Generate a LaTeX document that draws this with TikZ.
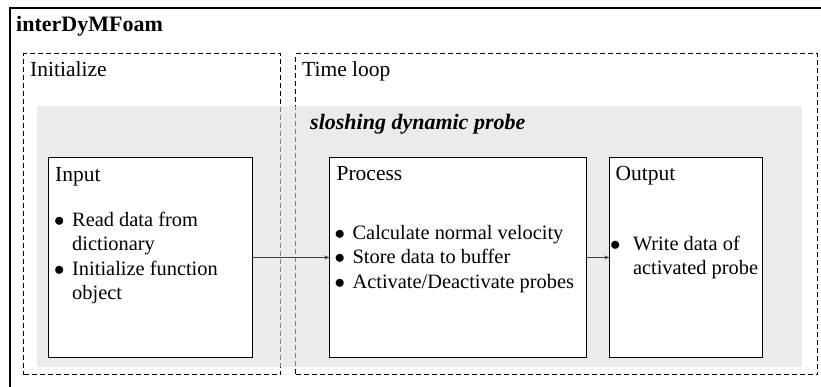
\documentclass[tikz,border=0pt]{standalone}
\usepackage{fontspec}
\setmainfont{Liberation Serif}
\usetikzlibrary{arrows.meta,positioning}

% bullet line and its continuation line
\newcommand{\bitem}[2][17pt]{\makebox[#1][l]{\hspace{-1pt}$\bullet$}#2}
\newcommand{\bcont}[2][17pt]{\hspace*{#1}#2}
\newcommand{\blist}[1]{\begin{tabular}[t]{@{}l@{}}#1\end{tabular}}

\begin{document}
\begin{tikzpicture}[x=1pt,y=-1pt,
    box/.style={draw, line width=0.9pt, fill=white, inner sep=0pt, anchor=north west, minimum height=200pt},
    phase/.style={draw, dash pattern=on 5pt off 3pt, line width=1.3pt, inner sep=0pt, anchor=north west, minimum height=321pt},
    head/.style={anchor=base west, inner sep=0pt, font=\fontsize{21.5}{24}\selectfont},
    bullets/.style={anchor=base west, inner sep=0pt, font=\fontsize{20.4}{24.5}\selectfont},
    flow/.style={-{Stealth[length=5pt,width=4pt]}, line width=0.7pt, black!75}]

    \useasboundingbox (0,0) rectangle (821,387);
    \clip (0,0) rectangle (821,387);

    % solver frame, runs off the page on the right and bottom
    \node[draw, line width=1.6pt, inner sep=0pt, anchor=north west, minimum width=830pt, minimum height=400pt] (solver) at (9,7) {};
    \node[anchor=base west, inner sep=0pt, font=\fontsize{22}{24}\selectfont\bfseries] (solvername) at (16,31.5) {interDyMFoam};

    % phases
    \node[phase, minimum width=257pt] (init) at (23,53) {};
    \node[phase, minimum width=522pt] (loop) at (295,53) {};
    \node[head] (initname) at ([shift={(7,24)}]init.north west) {Initialize};
    \node[head] (loopname) at ([shift={(7,24)}]loop.north west) {Time loop};

    % function object band, see-through over the phase frames
    \node[anchor=north west, inner sep=0pt, fill=black!13, fill opacity=0.6, minimum width=765pt, minimum height=261pt] (band) at (37,106) {};
    \node[anchor=base west, inner sep=0pt, font=\fontsize{22}{24}\selectfont\bfseries\itshape] (bandname) at (310,130) {sloshing dynamic probe};

    % steps
    \node[box, minimum width=204pt] (input) at (48,157) {};
    \node[box, minimum width=257pt, right=76.5pt of input] (process) {};
    \node[box, minimum width=153pt, right=22pt of process] (output) {};

    \node[head] (inputname) at ([shift={(7,24.5)}]input.north west) {Input};
    \node[head] (processname) at ([shift={(7,24)}]process.north west) {Process};
    \node[head] (outputname) at ([shift={(6,24)}]output.north west) {Output};

    \node[bullets] (inputlist) at ([shift={(7,69)}]input.north west)
        {\blist{\bitem{Read data from}\\ \bcont{dictionary}\\ \bitem{Initialize function}\\ \bcont{object}}};
    \node[bullets] (processlist) at ([shift={(6,82.5)}]process.north west)
        {\blist{\bitem{Calculate normal velocity}\\ \bitem{Store data to buffer}\\ \bitem{Activate/Deactivate probes}}};
    \node[bullets] (outputlist) at ([shift={(1.5,93.5)}]output.north west)
        {\blist{\bitem[22pt]{Write data of}\\ \bcont[22pt]{activated probe}}};

    \draw[flow] (input.east) -- (process.west);
    \draw[flow] (process.east) -- (output.west);

\end{tikzpicture}
\end{document}
